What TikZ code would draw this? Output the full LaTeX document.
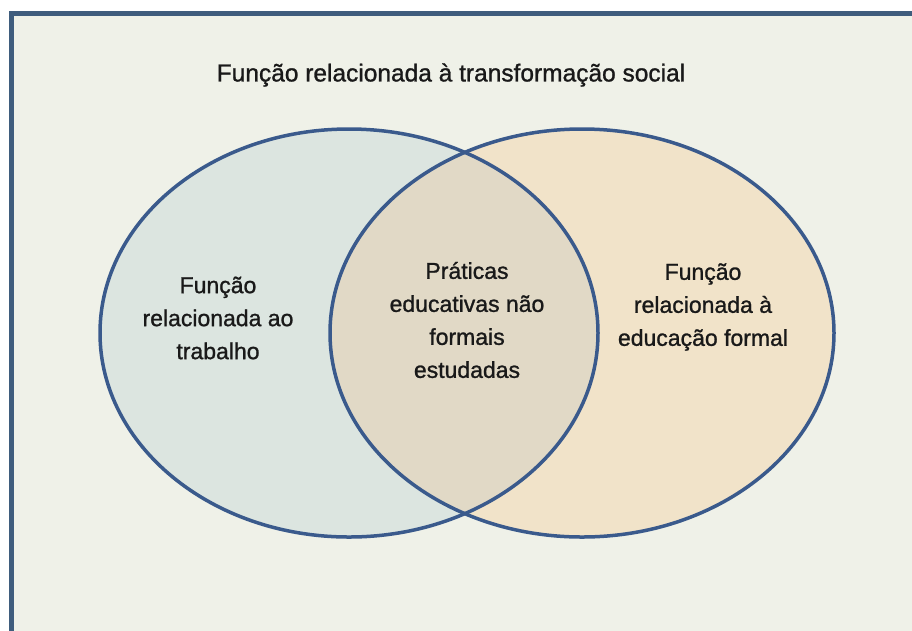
\documentclass[tikz,border=0pt]{standalone}
\usepackage{fontspec}
\setmainfont{Liberation Sans}
\newfontfamily\heavysans{Liberation Sans}[FakeBold=1.1]

\definecolor{frameblue}{HTML}{3F5D7D}
\definecolor{setblue}{HTML}{3A5A8C}
\definecolor{paper}{HTML}{EFF1E8}
\definecolor{leftfill}{HTML}{DCE5E0}
\definecolor{rightfill}{HTML}{F1E3C9}
\definecolor{midfill}{HTML}{E1D9C6}

\begin{document}
\begin{tikzpicture}[
  x = 1pt,
  y = -1pt,
  txt/.style = {
    align = center,
    font = \heavysans\fontsize{23}{33}\selectfont,
    text = black!90,
    inner sep = 0pt,
  },
  set/.style = {
    draw = setblue,
    line width = 3.5pt,
  }
]
  \useasboundingbox (0, 0) rectangle (912, 630);
  \fill[white] (0, 0) rectangle (912, 630);
  \draw[fill = paper, draw = frameblue, line width = 4.5pt]
    (11.5, 13.5) rectangle (940, 660);

  % the two sets
  \fill[rightfill] (582, 333) ellipse [x radius = 252pt, y radius = 204pt];
  \fill[leftfill] (349, 333) ellipse [x radius = 249pt, y radius = 204pt];
  \begin{scope}
    \clip (349, 333) ellipse [x radius = 249pt, y radius = 204pt];
    \fill[midfill] (582, 333) ellipse [x radius = 252pt, y radius = 204pt];
  \end{scope}
  \draw[set] (349, 333) ellipse [x radius = 249pt, y radius = 204pt];
  \draw[set] (582, 333) ellipse [x radius = 252pt, y radius = 204pt];

  \node[txt, font = \heavysans\fontsize{24.5}{33}\selectfont] (title)
    at (451, 75) {Função relacionada à transformação social};
  \node[txt] (work) at (218, 318) {Função\\relacionada ao\\trabalho};
  \node[txt] (practices) at (467, 320)
    {Práticas\\educativas não\\formais\\estudadas};
  \node[txt] (formal) at (703, 307) {Função\\relacionada à\\educação formal};
\end{tikzpicture}
\end{document}
